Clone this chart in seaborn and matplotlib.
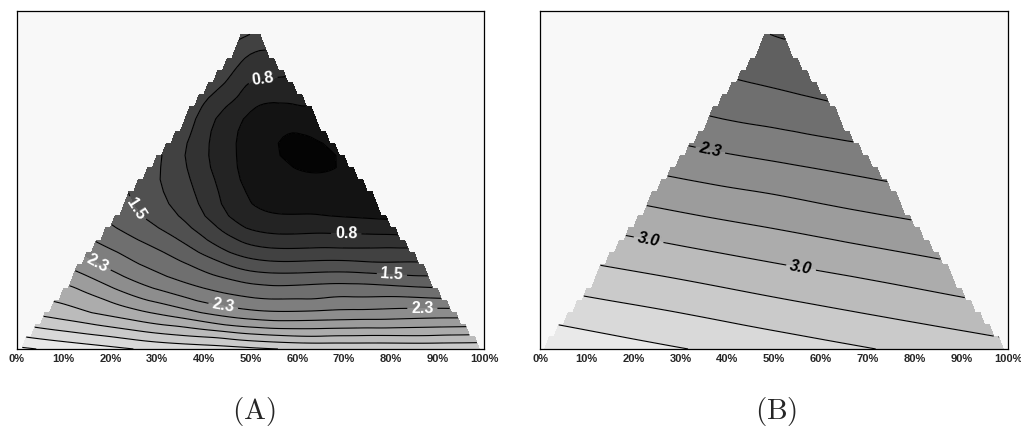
import numpy as np
import matplotlib
matplotlib.use("Agg")
import matplotlib.pyplot as plt
import matplotlib.tri as mtri
import seaborn as sns

# lattice: rows as fraction of triangle height, columns as fraction across the row
ROW_T = [0.0, 0.1, 0.2, 0.3, 0.4, 0.5, 0.6, 0.7, 0.8, 0.9, 0.96]
COL_U = [0.0, 0.25, 0.5, 0.75, 1.0]

# panel (A) values, left edge -> right edge
A_VALUES = [
    [4.10, 3.80, 3.60, 3.50, 3.50],
    [3.30, 2.90, 2.45, 2.45, 2.50],
    [2.80, 2.20, 1.80, 1.80, 1.70],
    [2.20, 1.75, 1.15, 1.10, 1.10],
    [1.75, 1.30, 0.65, 0.58, 0.52],
    [1.50, 1.05, 0.50, 0.36, 0.40],
    [1.35, 0.85, 0.45, 0.25, 0.32],
    [1.25, 0.80, 0.50, 0.38, 0.45],
    [1.20, 1.00, 0.76, 0.74, 0.72],
    [1.25, 1.15, 1.05, 1.00, 1.00],
    [1.35, 1.33, 1.30, 1.28, 1.25],
]

# panel (B) values
B_VALUES = [
    [4.00, 3.84, 3.69, 3.53, 3.38],
    [3.73, 3.59, 3.44, 3.30, 3.16],
    [3.45, 3.33, 3.20, 3.08, 2.95],
    [3.18, 3.07, 2.96, 2.85, 2.74],
    [2.91, 2.81, 2.72, 2.62, 2.53],
    [2.63, 2.55, 2.48, 2.40, 2.32],
    [2.36, 2.29, 2.23, 2.17, 2.11],
    [2.08, 2.03, 1.99, 1.94, 1.89],
    [1.85, 1.82, 1.79, 1.76, 1.73],
    [1.66, 1.65, 1.64, 1.63, 1.62],
    [1.56, 1.55, 1.54, 1.53, 1.52],
]

TICK_POS = [0, 10, 20, 30, 40, 50, 60, 70, 80, 90, 100]
TICK_LABELS = ["0%", "10%", "20%", "30%", "40%", "50%", "60%", "70%", "80%", "90%", "100%"]

# contour levels every 0.25
LEVELS = [0.05 + 0.25 * k for k in range(19)]

A_LABEL_LEVELS = [0.8, 1.55, 2.3]
A_LABEL_POS = [(52.6, 82), (70.5, 34.7), (26.9, 44), (80.3, 23.2),
               (18.2, 28.3), (44, 11.9), (86.8, 11.9)]
B_LABEL_LEVELS = [2.3, 3.05]
B_LABEL_POS = [(36.3, 60), (23.1, 32.6), (55.6, 23.5)]

sns.set_theme(style="white")
plt.rcParams["font.family"] = ["Liberation Sans", "DejaVu Sans"]
plt.rcParams["mathtext.fontset"] = "cm"

gray = sns.blend_palette(["black", "white"], as_cmap=True)

# lattice points of the triangle (base 0..100, apex at 50, height 100)
px, py = [], []
for t in ROW_T:
    for u in COL_U:
        px.append(50 * t + u * (100 - 100 * t))
        py.append(100 * t)
nc = len(COL_U)
triangles = []
for i in range(len(ROW_T) - 1):
    for j in range(nc - 1):
        a, b = i * nc + j, i * nc + j + 1
        c, d = (i + 1) * nc + j, (i + 1) * nc + j + 1
        triangles += [[a, b, c], [b, d, c]]
tri = mtri.Triangulation(px, py, triangles)

# coarse rows on purpose: gives the stepped edge of the original
gx, gy = np.meshgrid(np.linspace(0, 100, 101), np.linspace(0.01, 95.9, 27))


def fmt(v):
    return "%.1f" % (np.floor(v * 10 + 1e-6) / 10)


def draw_panel(ax, values, label_levels, label_pos, label_color, italic):
    interp = mtri.CubicTriInterpolator(tri, np.ravel(values), kind="geom")
    zi = interp(gx, gy)
    ax.contourf(gx, gy, zi, levels=LEVELS, cmap=gray, vmin=0.1, vmax=4.3,
                extend="both")
    lab_lv = [l for l in LEVELS if np.isclose(l, label_levels).any()]
    other_lv = [l for l in LEVELS if l not in lab_lv]
    ax.contour(gx, gy, zi, levels=other_lv, colors="black", linewidths=0.8)
    cs = ax.contour(gx, gy, zi, levels=lab_lv, colors="black", linewidths=0.8)
    texts = ax.clabel(cs, manual=label_pos, fmt=fmt, fontsize=11.5,
                      colors=label_color, inline=True, inline_spacing=4)
    for t in texts:
        t.set_fontweight("bold")
        if italic:
            t.set_fontstyle("italic")

    ax.set_xlim(0, 100)
    ax.set_ylim(0, 103)
    ax.set_facecolor("#f8f8f8")
    ax.set_xticks(TICK_POS, TICK_LABELS)
    ax.set_yticks([])
    ax.tick_params(axis="x", length=0, pad=3.5, labelsize=8)
    for lab in ax.get_xticklabels():
        lab.set_fontweight("bold")
    for s in ax.spines.values():
        s.set_visible(True)
        s.set_color("black")
        s.set_linewidth(0.9)


fig = plt.figure(figsize=(10.21, 4.30), dpi=100)
ax_a = fig.add_axes([0.01665, 0.1884, 0.4574, 0.786])
ax_b = fig.add_axes([0.5289, 0.1884, 0.4584, 0.786])

draw_panel(ax_a, A_VALUES, A_LABEL_LEVELS, A_LABEL_POS, "white", False)
draw_panel(ax_b, B_VALUES, B_LABEL_LEVELS, B_LABEL_POS, "black", True)

fig.text(0.2483, 0.043, r"$\mathrm{(A)}$", fontsize=21, ha="center", va="center")
fig.text(0.7605, 0.043, r"$\mathrm{(B)}$", fontsize=21, ha="center", va="center")

fig.savefig("out.png", dpi=100)
